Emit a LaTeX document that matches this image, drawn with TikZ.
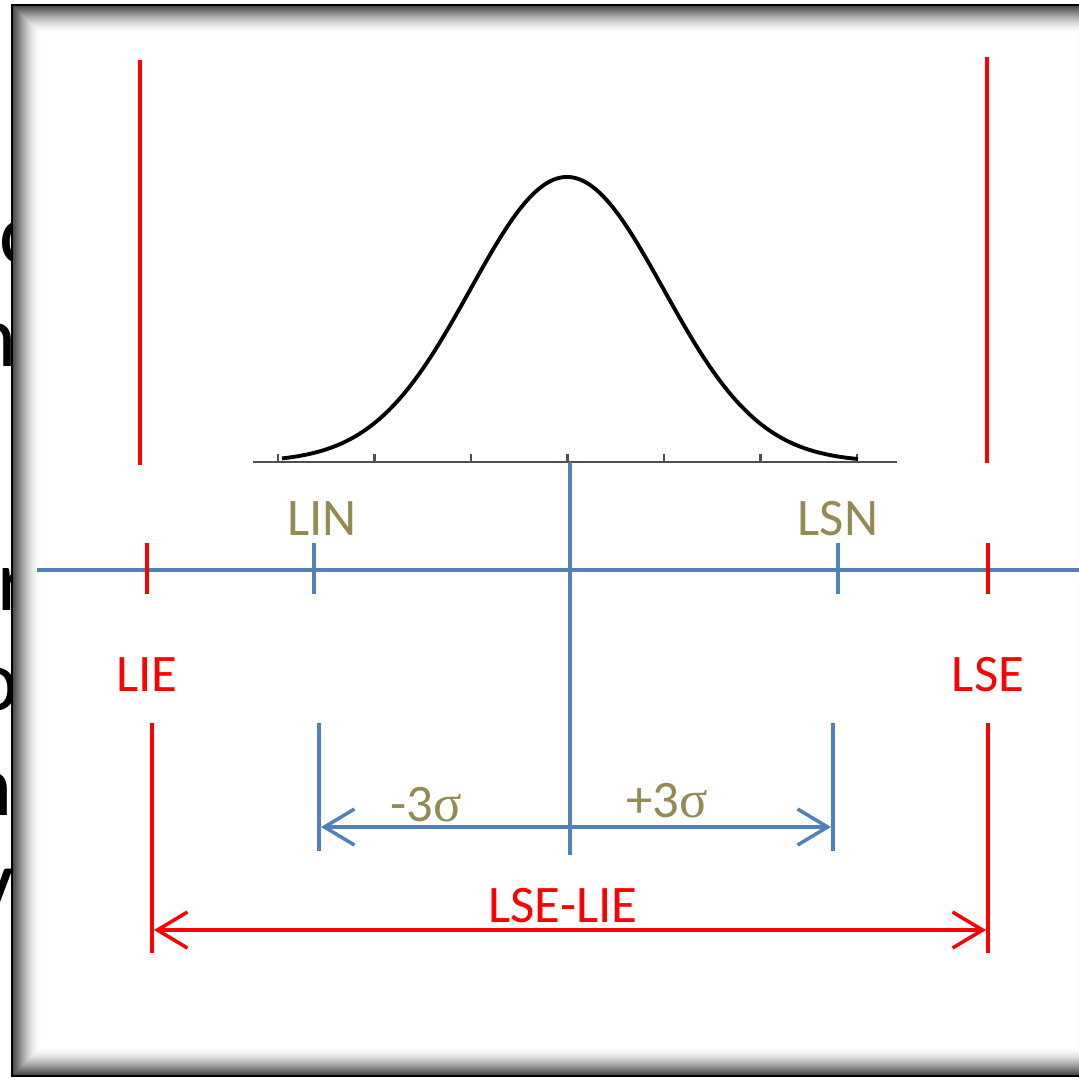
\documentclass[tikz,border=0pt]{standalone}
\usepackage{fontspec}
\setmainfont{Carlito}
\newfontfamily\griega{Liberation Serif}
\usetikzlibrary{arrows.meta, positioning}
\definecolor{azulcota}{HTML}{4F81BD}
\definecolor{oliva}{HTML}{948A54}
\definecolor{rojoesp}{HTML}{FF0000}
\definecolor{gris}{HTML}{505050}
\tikzset{
  lim/.style={draw=#1, line width=1pt},
  etq/.style={text=#1, font=\fontsize{15}{18}\selectfont,
    anchor=base, inner sep=0pt},
  frag/.style={text=black, font=\fontsize{25}{30}\selectfont,
    anchor=base west, inner sep=0pt},
  cota/.style={
    {Straight Barb[length=0.3cm,width=0.36cm]}-{Straight Barb[length=0.3cm,width=0.36cm]},
    draw=#1, line width=1pt},
  eje/.style={draw=gris, line width=0.7pt}
}

\begin{document}
\begin{tikzpicture}[x=0.01cm, y=-0.01cm]
    \useasboundingbox (0,0) rectangle (1079,1078);

    % Restos de texto detras del marco
    \begin{scope}
      \clip (0,0) rectangle (12,1078);
      \node[frag] (f1) at (-1,263) {c};
      \node[frag] (f2) at (-30,366) {n};
      \node[frag] (f3) at (-3,610) {r};
      \node[frag] (f4) at (-28,710) {o};
      \node[frag] (f5) at (-34,815) {n};
      \node[frag] (f6) at (-37,925) {V};
    \end{scope}

    % Marco con sombra interior
    \fill[white] (12,5) rectangle (1105,1076);
    \foreach \i [evaluate=\i as \op using {0.5*(1-\i/30)^2}] in {1,...,30}{%
      \draw[black, opacity=\op, line width=0.35pt]
        (12+\i,5+\i) rectangle (1105-\i,1076-\i);}
    \draw[black, line width=0.8pt] (12,5) rectangle (1105,1076);

    % Curva normal y su eje
    \coordinate (ejeI) at (253,462);
    \coordinate (ejeD) at (897,462);
    \draw[eje] (ejeI) -- (ejeD);
    \foreach \k in {0,...,6}{%
      \draw[eje] ({278+96.5*\k},462) -- ++(0,-8);}
    \draw[black, line width=1.1pt, domain=282:858, samples=120, smooth]
      plot (\x, {462-285*exp(-((\x-567)/96.5)*((\x-567)/96.5)/2)});

    % Limites de especificacion (arriba)
    \coordinate (lieA) at (140,60);  \coordinate (lieB) at (140,465);
    \coordinate (lseA) at (987,57);  \coordinate (lseB) at (987,463);
    \draw[lim=rojoesp] (lieA) -- (lieB);
    \draw[lim=rojoesp] (lseA) -- (lseB);

    % Escala horizontal
    \coordinate (escI) at (37,570);
    \coordinate (escD) at (1085,570);
    \draw[lim=azulcota] (escI) -- (escD);
    \coordinate (centroA) at (570,462);
    \coordinate (centroB) at (570,855);
    \draw[lim=azulcota] (centroA) -- (centroB);
    \foreach \x/\c in {147/rojoesp, 988/rojoesp, 314/azulcota, 838/azulcota}{%
      \coordinate (mA\x) at (\x,543);
      \coordinate (mB\x) at (\x,594);
      \draw[lim=\c] (mA\x) -- (mB\x);}

    % Etiquetas
    \node[etq=oliva] (lin) at (322,535) {LIN};
    \node[etq=oliva] (lsn) at (838,535) {LSN};
    \node[etq=rojoesp] (lie) at (147,691) {LIE};
    \node[etq=rojoesp] (lse) at (988,691) {LSE};

    % Lineas de cota
    \coordinate (rIA) at (152,723); \coordinate (rIB) at (152,953);
    \coordinate (rDA) at (988,723); \coordinate (rDB) at (988,953);
    \coordinate (aIA) at (319,723); \coordinate (aIB) at (319,851);
    \coordinate (aDA) at (833,723); \coordinate (aDB) at (833,851);
    \draw[lim=rojoesp] (rIA) -- (rIB);
    \draw[lim=rojoesp] (rDA) -- (rDB);
    \draw[lim=azulcota] (aIA) -- (aIB);
    \draw[lim=azulcota] (aDA) -- (aDB);

    \coordinate (s1) at (321,827); \coordinate (s2) at (831,827);
    \draw[cota=azulcota] (s1) -- (s2);
    \node[etq=oliva] (menos) at (426,821) {-3{\griega σ}};
    \node[etq=oliva] (mas) at (667,817) {+3{\griega σ}};

    \coordinate (t1) at (154,930); \coordinate (t2) at (986,930);
    \draw[cota=rojoesp] (t1) -- (t2);
    \node[etq=rojoesp] (dif) at (563,922) {LSE-LIE};
  \end{tikzpicture}
\end{document}
